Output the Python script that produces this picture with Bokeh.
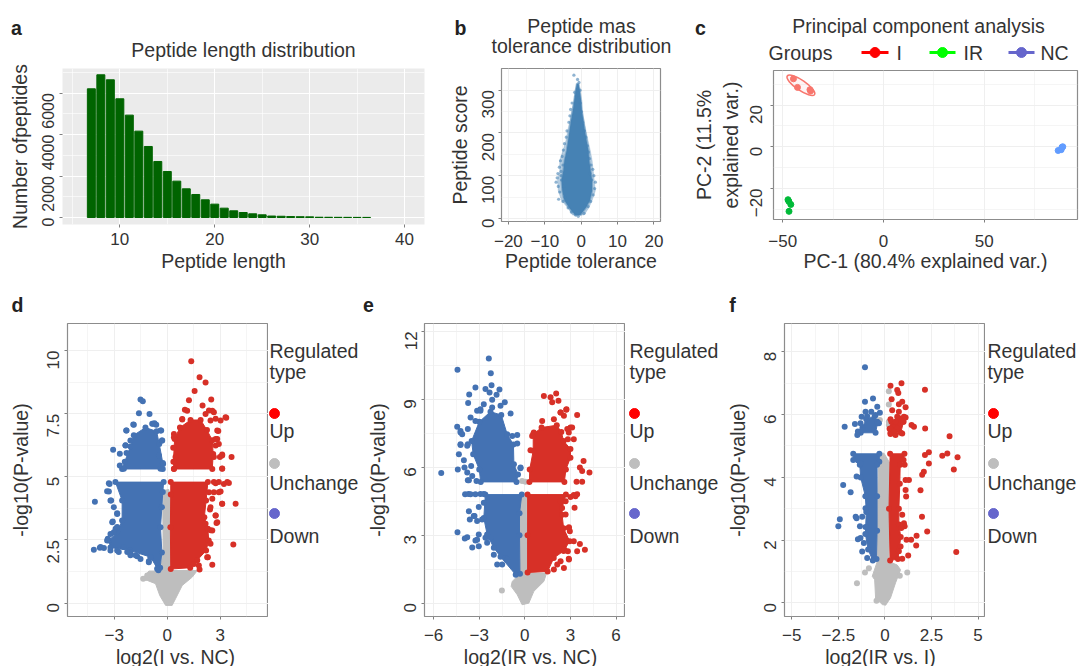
from math import pi
from bokeh.embed import file_html
from bokeh.resources import INLINE
from bokeh.plotting import figure
from bokeh.layouts import row, column
from bokeh.models import FixedTicker, Range1d
from bokeh.core.properties import value

# ---------- panel a ----------
len_x = list(range(7, 37))
len_count = [6210, 6886, 6645, 5728, 4940, 4167, 3427, 2703, 2220, 1754, 1384, 1110, 853, 644, 450,
             322, 241, 177, 129, 70, 60, 45, 38, 30, 12, 10, 8, 6, 5, 4]

# ---------- panel b: envelopes of the dense cloud, plus stray points ----------
tol_score = [8, 25, 42, 65, 89, 112, 136, 159, 182, 206, 229, 252, 276, 299, 315]
tol_low = [-1.7, -3.3, -4.6, -5.2, -5.4, -4.9, -4.6, -4.0, -3.6, -3.2, -2.8, -2.3, -1.9, -1.5, -1.2]
tol_high = [-0.2, 1.3, 2.4, 3.0, 3.0, 2.6, 2.2, 2.0, 1.5, 1.0, 0.6, 0.2, 0.0, -0.4, -0.7]
tol_outer_low = [-2.4, -3.7, -5.4, -6.3, -6.5, -5.9, -5.9, -5.0, -4.2, -3.7, -3.1, -2.6, -2.0, -1.7, -1.2]
tol_outer_high = [0.8, 2.1, 3.0, 3.9, 3.6, 3.3, 3.0, 2.5, 1.9, 1.3, 0.8, 0.2, -0.1, -0.3, -0.8]
tol_px = [-2.0, -1.0, -0.6, -1.8, -1.3, -0.3, -2.5, -2.9, -0.2, -3.1, -3.4, 0.1, 0.4, -3.9, 0.9, -4.1, 1.3, -4.6,
          -4.9, 1.7, 2.0, -5.2, -5.7, 2.3, -6.0, 2.7, -6.4, -6.6, 3.2, 3.5, -6.9, -6.3, -5.9, 3.9, 3.7, 3.3, -6.2,
          -5.0, -4.5, 2.6, 1.9, -3.6, -2.7, 0.8, -1.5, -0.8, -5.5, -5.0, -5.5, 2.4, 2.9, -4.8, -5.4, 1.0]
tol_py = [335, 325, 318, 295, 285, 300, 270, 255, 270, 240, 225, 250, 225, 205, 205, 190, 190, 175,
          160, 170, 155, 145, 135, 140, 120, 125, 105, 95, 115, 100, 85, 75, 62, 85, 70, 55, 45,
          40, 50, 40, 28, 25, 15, 12, 8, 5, 100, 125, 110, 105, 90, 75, 90, 30]

# ---------- panel c ----------
pca_i_x, pca_i_y = [-44.7, -42.7, -36.5, -36.2], [32.6, 28.5, 27.4, 26.8]
pca_ir_x, pca_ir_y = [-47.0, -46.0, -46.9, -47.4], [-26.2, -27.7, -31.0, -25.4]
pca_nc_x, pca_nc_y = [88.6, 86.7, 88.2, 89.0], [-0.2, -1.8, -1.4, 0.0]
pca_group_labels = ["I", "IR", "NC"]

# ---------- panel d: outlines of the dense clouds, plus separate points ----------
d_bu_x = [-2.55, -0.25, -0.25, -0.45, -0.6, -1.23, -1.89, -2.08, -2.4]
d_bu_y = [5.31, 5.31, 5.55, 6.3, 6.8, 6.95, 6.65, 6.2, 5.6]
d_bl_x = [-2.93, -0.2, -0.25, -0.3, -0.38, -0.3, -0.4, -0.5, -0.94, -2.08, -3.21, -3.30, -2.83, -2.55, -2.55]
d_bl_y = [4.79, 4.79, 4.4, 3.8, 3.0, 2.0, 1.4, 1.3, 1.82, 2.08, 2.2, 2.48, 2.81, 3.27, 4.06]
d_ru_x = [0.38, 2.55, 2.6, 2.55, 2.25, 1.89, 1.32, 0.72, 0.42, 0.35]
d_ru_y = [5.31, 5.31, 5.9, 6.45, 6.85, 7.25, 7.25, 6.95, 6.5, 5.6]
d_rl_x = [0.2, 2.3, 2.2, 2.1, 2.3, 2.35, 2.2, 1.7, 1.3, 0.2, 0.18, 0.2]
d_rl_y = [4.79, 4.79, 4.06, 3.4, 2.94, 2.48, 2.08, 1.7, 1.4, 1.35, 3.0, 4.3]
d_g_x = [-0.19, 0.09, 0.23, 0.19, 1.70, 1.42, 0.85, 0.47, 0.28, -0.09, -0.42, -0.66, -1.13, -1.42, -1.04, -0.38, -0.23, -0.25]
d_g_y = [4.46, 4.5, 3.93, 1.29, 1.29, 1.03, 0.70, 0.17, -0.09, -0.09, 0.30, 0.77, 0.90, 0.92, 1.27, 1.27, 2.08, 3.8]
d_blue_x = [-1.51, -1.38, -1.60, -1.00, -1.89, -2.30, -0.79, -0.62, -0.38, -0.30, -3.06, -2.68, -2.36, -3.30, -4.09, -3.30, -3.21, -2.83, -3.08, -2.92, -4.15, -3.81, -3.58, -2.83, -2.08, -1.70, -1.04, -3.36, -3.02, -2.45,
            -2.32, -1.92, -0.85, -0.72, -0.34, -0.28, -2.36, -2.30, -2.08, -2.68, -2.45, -0.38, -0.23, -0.47, -3.26, -3.40, -3.17, -3.02, -2.83, -3.11, -2.83, -3.21, -3.40, -3.77, -3.21, -2.74, -2.26, -2.08, -1.79, -1.51, -1.04, -0.94, -0.57]
d_blue_y = [8.06, 7.99, 7.52, 7.49, 7.06, 6.83, 7.10, 7.06, 6.83, 6.44, 6.07, 5.91, 6.25, 4.75, 4.01, 4.42, 4.06, 3.56, 3.23, 2.94, 2.11, 2.19, 2.18, 2.08, 2.02, 1.86, 1.66, 2.55, 2.81, 2.22,
            6.83, 7.07, 7.10, 7.12, 6.83, 6.44, 6.24, 5.94, 6.44, 5.45, 5.32, 5.32, 5.51, 5.84, 4.72, 4.43, 4.06, 3.8, 3.53, 3.2, 3.01, 2.74, 2.48, 2.22, 2.08, 2.02, 2.02, 1.89, 1.89, 1.75, 1.62, 1.82, 1.36]
d_red_x = [1.36, 1.83, 2.17, 1.55, 1.23, 2.49, 2.0, 1.0, 2.36, 2.64, 3.34, 3.02, 2.74, 0.85, 2.89, 2.83, 2.74, 3.11, 2.98, 3.64, 3.11, 0.38, 0.34, 3.49, 3.21, 2.74, 3.02, 2.64, 3.11, 3.87, 2.55, 2.42, 2.74, 2.79, 2.45, 3.74, 2.30, 2.55, 1.83,
           1.13, 0.85, 2.17, 2.55, 3.3, 2.74, 2.83, 2.64, 3.11, 3.11, 2.64, 2.92, 3.4, 2.36, 2.92, 3.11, 2.45, 2.74, 2.17, 2.83, 2.55, 2.45, 2.26, 1.79, 1.51, 0.38, 0.47, 0.38, 2.45, 2.92]
d_red_y = [9.58, 8.94, 8.73, 8.40, 8.03, 8.06, 7.82, 7.66, 7.63, 7.56, 7.34, 7.23, 7.30, 7.27, 6.81, 6.50, 6.24, 5.88, 5.78, 5.78, 5.33, 6.70, 6.15, 4.76, 4.72, 4.75, 4.42, 4.39, 3.93, 3.93, 4.13, 3.71, 3.47, 3.17, 2.88, 2.32, 1.82, 1.52, 1.33,
           7.62, 7.29, 7.49, 7.62, 7.36, 6.5, 6.83, 5.78, 5.84, 5.32, 4.79, 4.79, 4.79, 4.39, 4.39, 3.93, 3.8, 3.47, 3.14, 3.2, 2.87, 2.35, 1.82, 1.49, 1.55, 6.57, 5.78, 5.32, 7.23, 6.3]
d_gray_x = [-1.36, -1.13]
d_gray_y = [0.96, 1.09]

# ---------- panel e ----------
e_bu_x = [-2.9, -0.55, -0.45, -0.72, -0.75, -1.16, -1.55, -2.26, -3.0, -3.5, -3.4, -3.0]
e_bu_y = [5.35, 5.35, 5.68, 6.13, 7.0, 7.45, 8.3, 8.45, 8.0, 7.16, 6.57, 5.9]
e_bl_x = [-2.6, -0.2, -0.35, -0.35, -0.32, -0.6, -1.6, -2.04, -2.48, -2.7]
e_bl_y = [4.79, 4.79, 3.97, 3.0, 1.3, 1.25, 2.05, 2.44, 3.03, 3.76]
e_ru_x = [0.3, 2.6, 2.7, 3.0, 3.0, 2.55, 2.4, 2.1, 1.1, 0.55, 0.55, 0.32]
e_ru_y = [5.35, 5.35, 5.9, 6.42, 6.8, 7.16, 7.55, 7.85, 7.75, 7.45, 6.72, 5.9]
e_rl_x = [0.18, 2.7, 2.45, 2.45, 2.55, 2.95, 2.55, 1.9, 1.5, 0.18, 0.18]
e_rl_y = [4.79, 4.79, 4.2, 3.9, 3.3, 2.73, 2.3, 1.99, 1.4, 1.35, 3.0]
e_g_x = [-0.29, 0.11, 0.2, 1.43, 1.25, 0.59, 0.26, -0.18, -0.5, -0.9, -0.83, -0.39, -0.35]
e_g_y = [4.72, 4.72, 1.33, 1.33, 0.96, 0.52, 0.0, -0.07, 0.37, 0.74, 0.96, 1.25, 2.73]
e_blue_x = [-2.37, -4.43, -2.24, -3.25, -2.19, -2.59, -1.67, -2.32, -3.66, -1.86, -2.15, -1.32, -3.73, -2.7, -1.6, -0.94, -2.92, -3.57, -3.25, -4.45, -3.75, -4.23, -0.5, -4.23, -3.79, -4.34, -4.01, -4.41, -5.5, -3.79, -3.68, -3.18, -0.29,
            -3.93, -3.7, -3.57, -3.25, -2.92, -2.7, -3.68, -3.03, -2.7, -3.62, -3.14, -3.36, -4.43, -3.79, -3.95, -3.14, -3.03, -3.46, -3.03, -2.59, -2.04, -1.82, -1.27,
            -4.23, -4.12, -3.14, -2.92, -2.15, -0.83, -0.5, -4.23, -3.75, -3.53, -3.97, -3.46, -3.75, -0.28, -2.81, -2.48, -2.26, -3.25, -3.31, -1.49, -1.16]
e_blue_y = [10.79, 10.3, 10.15, 9.52, 9.61, 9.45, 9.43, 9.3, 9.21, 9.2, 8.97, 8.86, 8.83, 8.78, 8.71, 8.37, 8.49, 8.19, 8.04, 7.78, 7.68, 7.53, 7.42, 6.98, 6.94, 6.57, 6.3, 5.9, 5.74, 5.76, 5.42, 5.39, 5.95,
            4.8, 4.82, 4.8, 4.8, 4.82, 4.82, 4.06, 4.24, 4.43, 3.69, 3.62, 3.84, 3.13, 2.91, 2.85, 2.8, 3.03, 2.46, 2.51, 2.88, 2.14, 1.7, 1.99,
            7.6, 7.45, 8.49, 8.56, 8.63, 7.38, 7.04, 7.01, 7.01, 6.05, 5.98, 5.61, 5.42, 5.98, 3.69, 2.66, 2.88, 2.76, 3.84, 1.7, 1.92]
e_red_x = [1.25, 2.06, 1.69, 2.21, 1.8, 2.72, 2.35, 3.44, 2.57, 3.0, 3.22, 1.14, 1.91, 2.89, 3.86, 3.62, 3.77, 4.25, 3.4, 3.77, 3.44, 3.22, 3.27, 2.89, 2.96, 3.22, 3.62, 3.95, 3.44, 2.61, 2.89, 2.57, 1.91, 2.35,
           2.35, 2.74, 3.11, 2.79, 2.83, 0.59, 0.48, 0.37, 3.33, 3.0, 2.68, 2.35, 2.68, 2.9, 2.83, 2.9, 2.13]
e_red_y = [9.14, 9.25, 9.08, 8.93, 8.86, 8.53, 8.41, 8.3, 8.27, 7.75, 7.23, 8.04, 8.12, 7.53, 6.27, 5.98, 5.83, 5.76, 5.36, 5.36, 4.8, 4.77, 4.21, 3.32, 3.17, 2.73, 2.61, 2.36, 2.29, 2.36, 1.96, 1.55, 1.48, 1.85,
           8.41, 8.56, 7.75, 7.68, 7.23, 7.53, 7.38, 6.75, 4.72, 4.68, 4.5, 4.5, 3.91, 3.35, 2.29, 1.92, 1.7]
e_gray_x = [-1.51, -0.18, 0.04]
e_gray_y = [0.56, 5.39, 5.36]

# ---------- panel f ----------
f_bu_x = [-1.3, -0.5, -0.4, -0.55, -1.0, -1.2]
f_bu_y = [5.42, 5.42, 5.72, 5.95, 5.85, 5.6]
f_bl_x = [-1.7, -0.3, -0.3, -0.42, -0.42, -0.42, -0.45, -0.65, -0.9, -1.05, -1.0, -1.05, -1.3, -1.35, -1.7]
f_bl_y = [4.75, 4.75, 4.5, 4.4, 3.4, 2.3, 1.4, 1.35, 1.7, 2.2, 2.9, 3.4, 4.0, 4.4, 4.55]
f_ru_x = [0.3, 0.85, 1.0, 0.78, 0.35, 0.25]
f_ru_y = [5.42, 5.42, 5.77, 5.88, 5.77, 5.55]
f_rl_x = [0.28, 1.05, 1.0, 0.82, 0.8, 0.75, 0.75, 0.85, 0.7, 0.28, 0.22]
f_rl_y = [4.75, 4.75, 4.55, 4.4, 3.8, 3.0, 2.5, 2.1, 1.4, 1.35, 3.0]
f_g_x = [-0.32, -0.05, 0.27, 0.21, 0.66, 0.84, 0.57, 0.3, 0.04, -0.14, -0.5, -0.55, -0.68, -0.41, -0.38]
f_g_y = [4.77, 4.77, 4.45, 1.32, 1.21, 1.06, 0.64, 0.16, -0.07, -0.05, 0.16, 0.74, 0.85, 1.32, 3.6]
f_gray_x = [0.21, 0.21, 0.21, 0.21, -0.27, -1.5, 1.2, 0.8, -1.07, -0.86, -0.45]
f_gray_y = [6.74, 6.32, 5.77, 5.67, 5.83, 0.63, 0.97, 0.87, 0.97, 1.11, 0.07]
f_blue_x = [-1.07, -0.64, -1.07, -0.41, -1.04, -0.73, -1.25, -2.16, -1.61, -0.95, -0.5, -0.27, -1.31, -0.41, -0.32, -1.45, -1.48, -1.22, -2.24, -1.84, -2.42, -2.5, -1.57, -1.52, -1.22, -1.34, -1.04, -1.45, -1.31, -1.22, -1.52, -1.31, -0.95, -1.13, -1.04]
f_blue_y = [7.51, 6.51, 6.41, 6.25, 6.09, 6.09, 5.93, 5.61, 5.7, 5.95, 5.99, 6.06, 5.72, 5.77, 5.72, 5.46, 5.35, 5.51, 3.76, 3.53, 2.67, 2.44, 2.75, 2.7, 2.75, 2.44, 2.42, 2.03, 2.07, 1.64, 4.03, 4.45, 1.43, 1.91, 3.02]
f_red_x = [0.3, 0.89, 2.15, 0.66, 0.72, 0.36, 0.93, 0.75, 1.11, 0.39, 0.75, 0.66, 1.02, 0.3, 1.11, 0.57, 0.98, 0.3, 0.66, 1.43, 1.56, 2.16, 0.3, 0.57, 0.93, 0.48, 3.47, 2.36, 2.15, 3.08, 3.35, 3.9, 2.36, 3.7, 2.09, 2.0, 1.06, 1.29, 1.11, 1.91, 1.11, 1.14, 1.99, 2.27, 1.02, 1.06, 1.16, 1.41, 1.7, 1.68, 1.25, 3.83, 0.93, 0.84, 0.93, 0.88, 0.75]
f_red_y = [6.92, 7.0, 6.79, 6.78, 6.69, 6.49, 6.41, 6.33, 6.23, 6.14, 6.09, 5.93, 5.93, 5.85, 5.91, 5.77, 5.77, 5.56, 5.56, 5.67, 5.61, 5.56, 5.38, 5.35, 5.4, 5.46, 5.31, 4.8, 4.71, 4.69, 4.76, 4.64, 4.44, 4.25, 4.18, 4.08, 4.4, 3.92, 3.92, 3.59, 3.6, 3.39, 2.75, 2.28, 2.54, 2.44, 2.01, 2.01, 2.14, 1.83, 1.51, 1.62, 1.41, 1.8, 2.81, 2.39, 1.65]

reg_labels = ["Up", "Unchange", "Down"]
reg_title = ["Regulated", "type"]

# ---------- styles ----------
FONT = "Liberation Sans"
INK = "#333333"
TICK_PX, TEXT_PX = "17px", "19.5px"
BLUE, RED, GRAY = "#4472B3", "#D73027", "#BEBEBE"
GROUP_COLORS = ["#FF0000", "#00FF00", "#6666CC"]
TOP_H, BOT_H = 285, 381


def base(w, h, left, right, top, bottom, xr, yr, xt, xm, yt, ym, xgap, ygap, framed=True, bg="#FFFFFF", grid="#EFEFEF"):
    p = figure(width=w, height=h, x_range=Range1d(*xr), y_range=Range1d(*yr), toolbar_location=None,
               output_backend="svg", min_border_left=left, min_border_right=right,
               min_border_top=top, min_border_bottom=bottom, background_fill_color=bg)
    p.xaxis.ticker = FixedTicker(ticks=xt, minor_ticks=xm)
    p.yaxis.ticker = FixedTicker(ticks=yt, minor_ticks=ym)
    p.yaxis.major_label_orientation = pi / 2
    p.xaxis.major_label_standoff = xgap
    p.yaxis.major_label_standoff = ygap
    for ax in p.axis:
        ax.axis_line_color = None
        ax.minor_tick_line_color = None
        ax.major_tick_line_color = "#7F7F7F"
        ax.major_tick_out = 3
        ax.major_tick_in = 0
        ax.major_label_text_font = FONT
        ax.major_label_text_font_size = TICK_PX
        ax.major_label_text_color = INK
        ax.axis_label_text_font = FONT
        ax.axis_label_text_font_size = TEXT_PX
        ax.axis_label_text_font_style = "normal"
        ax.axis_label_text_color = INK
        ax.axis_label_standoff = 3
    for g in p.grid:
        g.grid_line_color = grid
        g.grid_line_width = 1
        g.minor_grid_line_color = grid
        g.minor_grid_line_width = 0.6
    p.outline_line_color = "#8C8C8C" if framed else None
    p.outline_line_width = 1.2
    return p


def blank(w, h):
    """An empty drawing area measured in its own pixels, top-down, for the texts around a plot."""
    p = figure(width=w, height=h, x_range=Range1d(0, w), y_range=Range1d(h, 0), toolbar_location=None,
               output_backend="svg", min_border=0, x_axis_location=None, y_axis_location=None, outline_line_color=None)
    p.grid.visible = False
    return p


def note(p, xs, ys, texts, align="center", bold=False):
    p.text(xs, ys, text=texts, text_font=value(FONT), text_font_size=value(TEXT_PX),
           text_font_style="bold" if bold else "normal", text_color="#222222" if bold else INK,
           text_baseline="middle", text_align=align)


# panel a (a blank strip is wrapped in its own column so that Bokeh does not line its frame up with the plot's)
head_a = blank(445, 62)
note(head_a, [243], [49], ["Peptide length distribution"])
note(head_a, [16], [27], ["a"], bold=True)
pa = base(445, 188, 62, 21, 6, 26, (3.96, 42.1), (-338, 7190), [10, 20, 30, 40], [5, 15, 25, 35],
          [0, 2000, 4000, 6000], [1000, 3000, 5000, 7000], 4, 10, framed=False, bg="#EBEBEB", grid="#FFFFFF")
pa.vbar(x=len_x, top=len_count, width=0.84, color="#006400")
pa.yaxis.major_label_text_font_size = "16px"
pa.yaxis.axis_label = "Number ofpeptides"
foot_a = blank(445, 35)
note(foot_a, [223], [10], ["Peptide length"])

# panel b
head_b = blank(245, 67)
note(head_b, [136, 136], [25, 45], ["Peptide mas", "tolerance distribution"])
note(head_b, [15], [27], ["b"], bold=True)
pb = base(245, 218, 55, 30, 1, 64, (-21.9, 21.8), (-7, 350.6), [-20, -10, 0, 10, 20], [-15, -5, 5, 15],
          [0, 100, 200, 300], [50, 150, 250], 9, 9)
pb.patch(tol_outer_low + tol_outer_high[::-1], tol_score + tol_score[::-1], color="#4682B4", fill_alpha=0.4, line_alpha=0.2)
pb.patch(tol_low + tol_high[::-1], tol_score + tol_score[::-1], color="#4682B4", line_width=2, line_alpha=0.45)
pb.scatter(tol_px, tol_py, size=3.2, color="#4682B4", alpha=0.6, line_color=None)
pb.xaxis.axis_label = "Peptide tolerance"
pb.xaxis.axis_label_standoff = 0
pb.yaxis.axis_label = "Peptide score"

# panel c: header with title and legend, then the plot
head_c = blank(389, 62)
for x0, x1, col in zip([171, 239, 318], [198, 265, 344], GROUP_COLORS):
    head_c.line([x0, x1], [52, 52], line_color=col, line_width=3)
    head_c.scatter([(x0 + x1) / 2], [52], size=10, color=col)
note(head_c, [78, 206, 273, 350], [52] * 4, ["Groups"] + pca_group_labels, align="left")
note(head_c, [228], [25], ["Principal component analysis"])
note(head_c, [10], [27], ["c"], bold=True)
pc = base(389, 223, 73, 2, 8, 66, (-54.6, 96.3), (-34.9, 36.6), [-50, 0, 50], [-25, 25, 75],
          [-20, 0, 20], [-30, -10, 10, 30], 11, 13)
pc.ellipse([-41.0], [29.5], width=33, height=10, angle=-0.6, width_units="screen", height_units="screen",
           fill_color="#F8766D", fill_alpha=0.08, line_color="#F8766D", line_width=1.6)
pc.scatter(pca_i_x, pca_i_y, size=6, color="#F8766D")
pc.scatter(pca_ir_x, pca_ir_y, size=6, color="#00BA38")
pc.scatter(pca_nc_x, pca_nc_y, size=6, color="#619CFF")
pc.xaxis.axis_label = "PC-1 (80.4% explained var.)"
pc.xaxis.axis_label_standoff = 0
pc.yaxis.axis_label = "PC-2 (11.5%\nexplained var.)"
pc.yaxis.axis_label_standoff = 0


def volcano(w, left, xr, yr, xt, xm, yt, ym, blue_polys, red_polys, gray_poly, blue_pts, red_pts, gray_pts,
            xlabel, xlabel_x, letter, letter_x):
    head = blank(w, 37)
    note(head, [letter_x], [19], [letter], bold=True)
    p = base(w, 324, left, 0, 1, 30, xr, yr, xt, xm, yt, ym, 8, 10)
    p.patch(gray_poly[0], gray_poly[1], color=GRAY, line_width=1)
    p.scatter(gray_pts[0], gray_pts[1], size=6, color=GRAY, line_color=None)
    for xs, ys in blue_polys:
        p.patch(xs, ys, color=BLUE, line_width=1)
        p.scatter(xs, ys, size=6, color=BLUE, line_color=None)
    p.scatter(blue_pts[0], blue_pts[1], size=6, color=BLUE, line_color=None)
    for xs, ys in red_polys:
        p.patch(xs, ys, color=RED, line_width=1)
        p.scatter(xs, ys, size=6, color=RED, line_color=None)
    p.scatter(red_pts[0], red_pts[1], size=6, color=RED, line_color=None)
    p.yaxis.axis_label = "-log10(P-value)"
    p.yaxis.axis_label_standoff = 7
    foot = blank(w, 20)
    note(foot, [xlabel_x], [10], [xlabel])
    return column(column(head), p, column(foot))


def reg_legend(w, text_x, dot_x):
    p = blank(w, BOT_H)
    p.scatter([dot_x] * 3, [128, 178, 228], size=10, color=["#FF0000", GRAY, "#6666CC"])
    note(p, [text_x] * 5, [65, 86, 145, 197, 250], reg_title + reg_labels, align="left")
    return column(p)


panel_d = volcano(268, 67, (-5.64, 5.73), (-0.53, 11.07), [-3, 0, 3], [-4.5, -1.5, 1.5, 4.5], [0, 2.5, 5, 7.5, 10],
                  [1.25, 3.75, 6.25, 8.75], [(d_bu_x, d_bu_y), (d_bl_x, d_bl_y)], [(d_ru_x, d_ru_y), (d_rl_x, d_rl_y)], (d_g_x, d_g_y),
                  (d_blue_x, d_blue_y), (d_red_x, d_red_y), (d_gray_x, d_gray_y), "log2(I vs. NC)", 175, "d", 17)
panel_e = volcano(265, 64, (-6.6, 6.62), (-0.59, 12.34), [-6, -3, 0, 3, 6], [-4.5, -1.5, 1.5, 4.5], [0, 3, 6, 9, 12],
                  [1.5, 4.5, 7.5, 10.5], [(e_bu_x, e_bu_y), (e_bl_x, e_bl_y)], [(e_ru_x, e_ru_y), (e_rl_x, e_rl_y)], (e_g_x, e_g_y),
                  (e_blue_x, e_blue_y), (e_red_x, e_red_y), (e_gray_x, e_gray_y), "log2(IR vs. NC)", 170, "e", 8)
panel_f = volcano(265, 64, (-5.39, 5.4), (-0.43, 8.9), [-5, -2.5, 0, 2.5, 5], [-3.75, -1.25, 1.25, 3.75], [0, 2, 4, 6, 8],
                  [1, 3, 5, 7], [(f_bu_x, f_bu_y), (f_bl_x, f_bl_y)], [(f_ru_x, f_ru_y), (f_rl_x, f_rl_y)], (f_g_x, f_g_y),
                  (f_blue_x, f_blue_y), (f_red_x, f_red_y), (f_gray_x, f_gray_y), "log2(IR vs. I)", 160, "f", 12)

top_row = row(column(column(head_a), pa, column(foot_a)), column(column(head_b), pb), column(column(head_c), pc))
bottom_row = row(panel_d, reg_legend(92, 1, 6), panel_e, reg_legend(95, 4, 9), panel_f, reg_legend(94, 2, 8))
page = column(top_row, bottom_row)
open("out.html", "w").write(file_html(page, INLINE))
